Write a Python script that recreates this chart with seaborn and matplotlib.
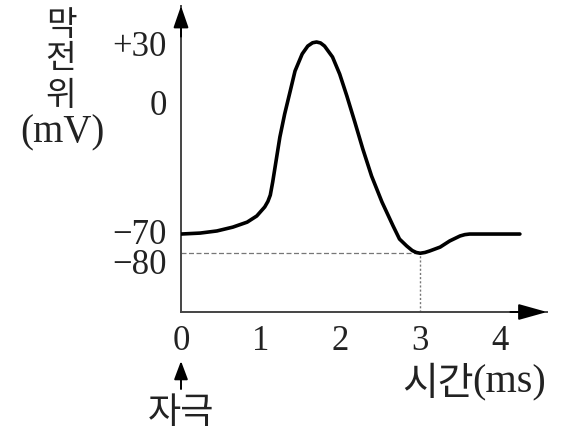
import matplotlib
matplotlib.use("Agg")
import matplotlib.pyplot as plt
import matplotlib.transforms as mtransforms
import seaborn as sns
import pandas as pd

# Membrane potential (mV) over time (ms) after a stimulus at t = 0
time_ms = [0.00, 0.24, 0.45, 0.65, 0.83, 0.95, 1.05, 1.09, 1.12, 1.15, 1.18,
           1.24, 1.30, 1.37, 1.43, 1.52, 1.59, 1.65, 1.70, 1.75, 1.80, 1.90,
           1.99, 2.08, 2.18, 2.28, 2.39, 2.52, 2.66, 2.74, 2.83, 2.90, 2.95,
           3.00, 3.06, 3.12, 3.25, 3.37, 3.50, 3.56, 3.62, 4.25]
potential_mv = [-70.0, -69.5, -68.4, -66.4, -63.8, -60.6, -55.9, -53.0, -49.7,
                -42.9, -35.1, -19.5, -7.5, 4.5, 14.9, 23.8, 27.9, 29.6, 30.0,
                29.5, 27.9, 22.2, 13.3, 1.9, -11.7, -25.7, -39.8, -53.3, -65.8,
                -72.6, -76.2, -78.6, -79.6, -80.0, -79.6, -78.8, -76.8, -73.6,
                -71.0, -70.3, -70.0, -70.0]

# Axis ticks
y_ticks = [30, 0, -70, -80]
y_tick_labels = ["+30", "0", "\u221270", "\u221280"]
x_ticks = [0, 1, 2, 3, 4]
x_tick_labels = ["0", "1", "2", "3", "4"]

# Guide lines to the lowest point of the hyperpolarisation
min_time = 3.0
min_potential = -80

sns.set_theme(style="white")
plt.rcParams["font.family"] = ["Liberation Serif", "Noto Sans CJK KR"]

W, H = 563, 431
X0, X1, Y_AX, Y_TOP = 181, 547, 313, 7
fig = plt.figure(figsize=(W / 100, H / 100), dpi=100)
ax = fig.add_axes([X0 / W, 1 - Y_AX / H, (X1 - X0) / W, (Y_AX - Y_TOP) / H])
ax.set_xlim(0, 4.59)
ax.set_ylim(-110.6, 48.75)
ymin = ax.get_ylim()[0]

df = pd.DataFrame({"t": time_ms, "v": potential_mv})
sns.lineplot(data=df, x="t", y="v", sort=False, estimator=None, ax=ax,
             color="black", linewidth=2.6, solid_joinstyle="round",
             solid_capstyle="round", zorder=3)

# Dashed guides
ax.plot([0, min_time], [min_potential, min_potential], color="#777777",
        linestyle=(0, (4, 2)), linewidth=0.9, zorder=2)
ax.plot([min_time, min_time], [ymin, min_potential], color="#777777",
        linestyle=(0, (1.5, 1.5)), linewidth=1.0, zorder=2)

# Axes styling
for side in ("top", "right"):
    ax.spines[side].set_visible(False)
for side in ("left", "bottom"):
    ax.spines[side].set_color("#444444")
    ax.spines[side].set_linewidth(1.4)

ax.set_xticks(x_ticks)
ax.set_xticklabels(x_tick_labels)
ax.set_yticks(y_ticks)
ax.set_yticklabels(y_tick_labels)
ax.tick_params(axis="both", direction="in", length=4, width=1.0,
               color="#555555", labelsize=25, labelcolor="#222222")
ax.tick_params(axis="y", pad=10)
ax.tick_params(axis="x", pad=9)
ax.set_xlabel("")
ax.set_ylabel("")

# Nudge the crowded lower y labels apart (offsets in points)
nudges = {"+30": 0, "0": -1.5, "\u221270": 2.5, "\u221280": -5.5}
for lab in ax.get_yticklabels():
    dy = nudges.get(lab.get_text(), 0)
    lab.set_transform(lab.get_transform() +
                      mtransforms.ScaledTranslation(0, dy / 72, fig.dpi_scale_trans))

# Arrow heads on the axes
ax.annotate("", xy=(1, 0), xytext=(0.9, 0), xycoords="axes fraction",
            arrowprops=dict(arrowstyle="-|>,head_length=1.25,head_width=0.35",
                            color="black", lw=1.4, mutation_scale=14,
                            shrinkA=0, shrinkB=0))
ax.annotate("", xy=(0, 1), xytext=(0, 0.9), xycoords="axes fraction",
            arrowprops=dict(arrowstyle="-|>,head_length=0.95,head_width=0.33",
                            color="black", lw=1.4, mutation_scale=14,
                            shrinkA=0, shrinkB=0))

# Axis titles
kfont = ["Noto Sans CJK KR", "Liberation Serif"]
for ch, y in zip(["막", "전", "위"], [25, 59, 95]):
    fig.text(61 / W, 1 - y / H, ch, ha="center", va="center", fontsize=24,
             family=kfont, color="#222222")
fig.text(62 / W, 1 - 133 / H, "(mV)", ha="center", va="center", fontsize=28,
         family=["Liberation Serif"], color="#222222")

fig.text(474 / W, 1 - 384 / H, "시간", ha="right", va="center", fontsize=28,
         family=kfont, color="#222222")
fig.text(472 / W, 1 - 383 / H, "(ms)", ha="left", va="center", fontsize=29,
         family=["Liberation Serif"], color="#222222")

# Stimulus marker at t = 0
ax.annotate("", xy=(0, 1 - 362 / H), xytext=(0, 1 - 390 / H),
            xycoords=("data", "figure fraction"),
            textcoords=("data", "figure fraction"),
            arrowprops=dict(arrowstyle="-|>,head_length=0.8,head_width=0.3",
                            color="black", lw=1.4, mutation_scale=14,
                            shrinkA=0, shrinkB=0))
fig.text(181 / W, 1 - 413 / H, "자극", ha="center", va="center", fontsize=26,
         family=kfont, color="#222222")

fig.savefig("out.png", dpi=100, facecolor="white")
